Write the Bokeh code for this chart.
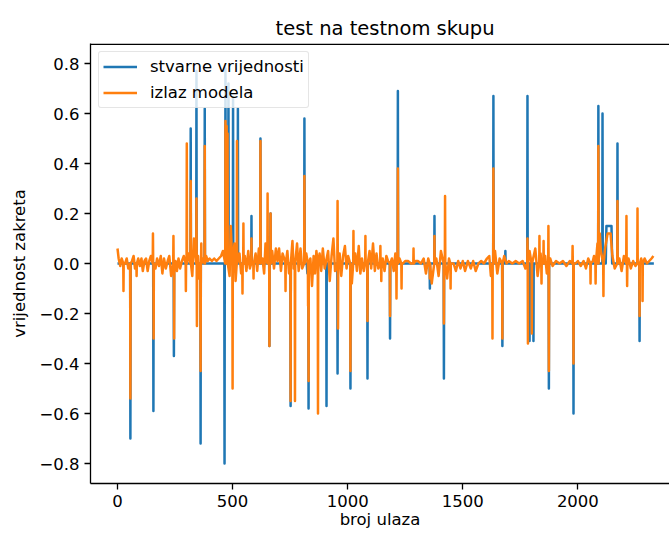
from bokeh.plotting import figure
from bokeh.models import Span, FixedTicker, Legend
from bokeh.embed import file_html
from bokeh.resources import INLINE

title_text = "test na testnom skupu"
x_label = "broj ulaza"
y_label = "vrijednost zakreta"
series_names = ["stvarne vrijednosti", "izlaz modela"]
series_colors = ["#1f77b4", "#ff7f0e"]
x_ticks = [0, 500, 1000, 1500, 2000]
x_tick_labels = ["0", "500", "1000", "1500", "2000"]
y_ticks = [-0.8, -0.6, -0.4, -0.2, 0.0, 0.2, 0.4, 0.6, 0.8]
y_tick_labels = ["\u22120.8", "\u22120.6", "\u22120.4", "\u22120.2", "0.0", "0.2", "0.4", "0.6", "0.8"]

# true values (stvarne vrijednosti): short spikes (index, value)
true_spikes = [
    (56, -0.70), (156, -0.59), (245, -0.37), (318, 0.54), (343, 0.77), (361, -0.72),
    (379, 0.62), (465, -0.80), (469, 0.78), (482, 0.72), (502, 0.66), (523, 0.62),
    (582, 0.19), (621, 0.50), (660, -0.33), (665, 0.20), (752, -0.57), (812, 0.58),
    (830, -0.58), (908, -0.57), (956, -0.44), (1012, -0.50), (1086, -0.46), (1184, -0.30),
    (1218, 0.69), (1357, -0.10), (1377, 0.19), (1418, -0.46), (1633, 0.67), (1672, -0.33),
    (1685, 0.05), (1781, 0.67), (1790, -0.31), (1807, -0.31), (1874, -0.50), (1981, -0.60),
    (2089, 0.63), (2107, 0.60), (2172, 0.48), (2268, -0.31),
]
# true values: level points between spikes
true_levels = [
    (0, 0.0), (822, 0.0), (825, -0.04), (850, -0.04), (853, 0.0),
    (2121, 0.0), (2124, 0.15), (2146, 0.15), (2149, 0.0), (2330, 0.0),
]

# model output (izlaz modela): spikes
model_spikes = [
    (26, -0.11), (56, -0.54), (83, -0.05), (154, 0.12), (157, -0.30), (243, 0.11),
    (246, -0.30), (297, -0.11), (301, 0.48), (318, 0.33), (343, 0.26), (345, -0.25),
    (361, -0.43), (364, 0.08), (379, 0.47), (469, 0.57), (474, 0.55), (478, 0.52),
    (500, -0.50), (519, 0.49), (543, -0.12), (547, 0.16), (582, 0.10), (591, -0.06),
    (621, 0.49), (652, 0.28), (660, -0.33), (665, 0.20), (730, -0.11), (752, -0.55),
    (771, -0.55), (812, 0.35), (828, -0.17), (830, -0.47), (871, -0.60), (956, 0.25),
    (958, -0.26), (1012, -0.43), (1025, 0.13), (1077, 0.11), (1086, -0.23), (1142, 0.07),
    (1146, -0.07), (1184, -0.21), (1212, -0.14), (1218, 0.38), (1234, -0.10), (1286, 0.06),
    (1357, -0.06), (1377, 0.11), (1418, -0.24), (1423, 0.27), (1447, -0.10), (1629, -0.30),
    (1633, 0.38), (1672, -0.30), (1781, 0.10), (1783, -0.32), (1800, -0.28), (1833, 0.11),
    (1842, -0.08), (1851, 0.09), (1872, 0.15), (1874, -0.43), (1977, 0.07), (1981, -0.40),
    (2055, -0.08), (2077, -0.08), (2089, 0.47), (2111, -0.13), (2172, 0.25), (2211, 0.19),
    (2214, -0.09), (2259, 0.22), (2268, -0.21), (2281, -0.15),
]
# model output: small wiggle around zero between spikes
model_levels = [
    (0, 0.06), (5, 0.02), (12, -0.01), (18, 0.02), (33, 0.00), (40, 0.02), (47, -0.02),
    (63, 0.01), (70, 0.03), (76, -0.02), (90, 0.02), (97, -0.01), (104, 0.02), (110, -0.03),
    (117, 0.01), (124, 0.02), (131, -0.03), (138, 0.01), (145, 0.03), (165, -0.02),
    (172, 0.02), (180, -0.01), (188, 0.03), (195, -0.04), (202, 0.02), (210, -0.02),
    (218, 0.01), (225, 0.03), (233, -0.05), (252, 0.01), (258, -0.03), (265, 0.02),
    (272, -0.02), (280, 0.01), (288, 0.03), (308, 0.04), (325, -0.05), (332, 0.10),
    (350, 0.03), (355, -0.06), (370, 0.02), (385, 0.03), (392, 0.01), (400, 0.02),
    (410, 0.01), (420, 0.02), (430, 0.01), (440, 0.02), (450, 0.03), (458, 0.05),
    (487, -0.05), (492, 0.15), (508, 0.08), (513, -0.07), (530, 0.04), (537, -0.04),
    (553, 0.03), (560, -0.03), (568, 0.05), (575, -0.02), (600, 0.04), (607, -0.03),
    (614, 0.06), (630, 0.02), (637, -0.04), (643, 0.08), (672, 0.05), (680, -0.02),
    (688, 0.06), (695, 0.01), (702, 0.06), (710, -0.03), (717, 0.04), (724, 0.02),
    (738, 0.05), (745, -0.04), (760, 0.09), (765, -0.02), (780, 0.08), (787, -0.03),
    (795, 0.06), (802, -0.02), (820, 0.04), (838, 0.02), (845, -0.09), (852, 0.03),
    (858, -0.04), (864, 0.05), (878, 0.04), (885, -0.03), (892, 0.06), (900, -0.02),
    (915, 0.05), (922, -0.07), (930, 0.03), (938, 0.10), (945, -0.03), (965, 0.04),
    (972, -0.05), (980, 0.03), (988, 0.07), (995, -0.02), (1002, 0.03), (1018, -0.08),
    (1033, 0.04), (1040, -0.03), (1048, 0.07), (1055, -0.04), (1062, 0.02), (1070, -0.03),
    (1095, 0.05), (1102, -0.02), (1110, 0.08), (1118, -0.03), (1125, 0.04), (1133, -0.02),
    (1152, 0.02), (1160, -0.03), (1168, 0.03), (1175, 0.01), (1192, 0.02), (1200, -0.03),
    (1207, 0.04), (1225, 0.02), (1240, 0.00), (1250, 0.01), (1262, 0.01), (1275, 0.00),
    (1295, 0.01), (1305, 0.01), (1318, 0.00), (1330, 0.02), (1340, -0.04), (1350, 0.02),
    (1365, -0.08), (1385, 0.02), (1395, -0.05), (1405, 0.05), (1432, -0.06), (1440, 0.02),
    (1460, 0.00), (1470, -0.03), (1480, 0.01), (1490, -0.02), (1500, 0.01), (1510, -0.03),
    (1522, 0.01), (1535, -0.02), (1545, 0.01), (1556, -0.03), (1568, 0.00), (1580, 0.01),
    (1592, 0.00), (1605, 0.02), (1615, 0.03), (1622, -0.05), (1640, 0.05), (1650, -0.04),
    (1660, 0.02), (1680, 0.03), (1690, 0.00), (1700, 0.01), (1715, 0.00), (1730, 0.01),
    (1745, 0.00), (1760, 0.01), (1772, -0.02), (1790, 0.05), (1815, 0.06), (1825, -0.05),
    (1838, 0.04), (1858, 0.03), (1865, -0.04), (1880, 0.02), (1890, -0.01), (1905, 0.01),
    (1920, 0.00), (1935, 0.01), (1950, -0.01), (1965, 0.01), (1990, 0.00), (2000, 0.01),
    (2012, -0.01), (2025, 0.01), (2035, -0.02), (2045, 0.02), (2065, 0.01), (2070, 0.03),
    (2085, 0.08), (2095, 0.12), (2100, 0.05), (2118, 0.06), (2129, 0.12), (2142, 0.12),
    (2150, 0.03), (2160, -0.02), (2180, 0.02), (2190, -0.03), (2200, 0.03), (2220, 0.02),
    (2230, -0.02), (2240, 0.01), (2250, -0.01), (2275, 0.02), (2290, 0.02), (2300, 0.00),
    (2310, 0.01), (2320, 0.02), (2328, 0.03),
]


def build_series(spikes, levels):
    pts = list(levels)
    for i, v in spikes:
        pts += [(i - 1, 0.0), (i, v), (i + 1, 0.0)]
    pts.sort(key=lambda t: t[0])
    return [p[0] for p in pts], [p[1] for p in pts]


true_x, true_y = build_series(true_spikes, true_levels)
model_x, model_y = build_series(model_spikes, model_levels)

FONT = "DejaVu Sans"

p = figure(
    width=669, height=534,
    x_range=(-117.3, 2398), y_range=(-0.88, 0.88),
    output_backend="svg", toolbar_location=None,
    min_border_left=90, min_border_right=0, min_border_top=43, min_border_bottom=51,
    background_fill_color="white", border_fill_color="white",
)
p.outline_line_color = None
p.grid.visible = False

r1 = p.line(true_x, true_y, line_color=series_colors[0], line_width=2.5, line_join="round")
r2 = p.line(model_x, model_y, line_color=series_colors[1], line_width=2.5, line_join="round")

# top frame edge
p.add_layout(Span(location=0.877, dimension="width", line_color="black", line_width=1.3))

p.title.text = title_text
p.title.text_font = FONT
p.title.text_font_size = "19.5px"
p.title.text_font_style = "normal"
p.title.text_color = "black"
p.title.align = "left"
p.title.offset = 185
p.title.standoff = 7

for ax in (p.xaxis[0], p.yaxis[0]):
    ax.axis_line_color = "black"
    ax.axis_line_width = 1.3
    ax.major_tick_line_color = "black"
    ax.major_tick_line_width = 1.3
    ax.major_tick_in = 0
    ax.major_tick_out = 6
    ax.minor_tick_line_color = None
    ax.major_label_standoff = 5
    ax.major_label_text_font = FONT
    ax.major_label_text_font_size = "16.5px"
    ax.major_label_text_color = "black"
    ax.axis_label_text_font = FONT
    ax.axis_label_text_font_size = "16.5px"
    ax.axis_label_text_font_style = "normal"
    ax.axis_label_text_color = "black"

p.xaxis[0].axis_label = x_label
p.xaxis[0].axis_label_standoff = 0
p.xaxis[0].ticker = FixedTicker(ticks=x_ticks)
p.xaxis[0].major_label_overrides = {t: l for t, l in zip(x_ticks, x_tick_labels)}

p.yaxis[0].axis_label = y_label
p.yaxis[0].axis_label_standoff = 7
p.yaxis[0].ticker = FixedTicker(ticks=y_ticks)
p.yaxis[0].major_label_overrides = {t: l for t, l in zip(y_ticks, y_tick_labels)}

legend = Legend(items=[(series_names[0], [r1]), (series_names[1], [r2])])
legend.location = "top_left"
legend.margin = 8
legend.padding = 4
legend.spacing = 5
legend.glyph_width = 34
legend.glyph_height = 21
legend.label_height = 21
legend.label_standoff = 13
legend.label_text_font = FONT
legend.label_text_font_size = "16.5px"
legend.label_text_color = "black"
legend.border_line_color = "#cccccc"
legend.border_line_width = 1
legend.background_fill_alpha = 0.8
if "border_radius" in Legend.properties():
    legend.border_radius = 3
p.add_layout(legend, "center")

open("out.html", "w").write(file_html(p, INLINE))
